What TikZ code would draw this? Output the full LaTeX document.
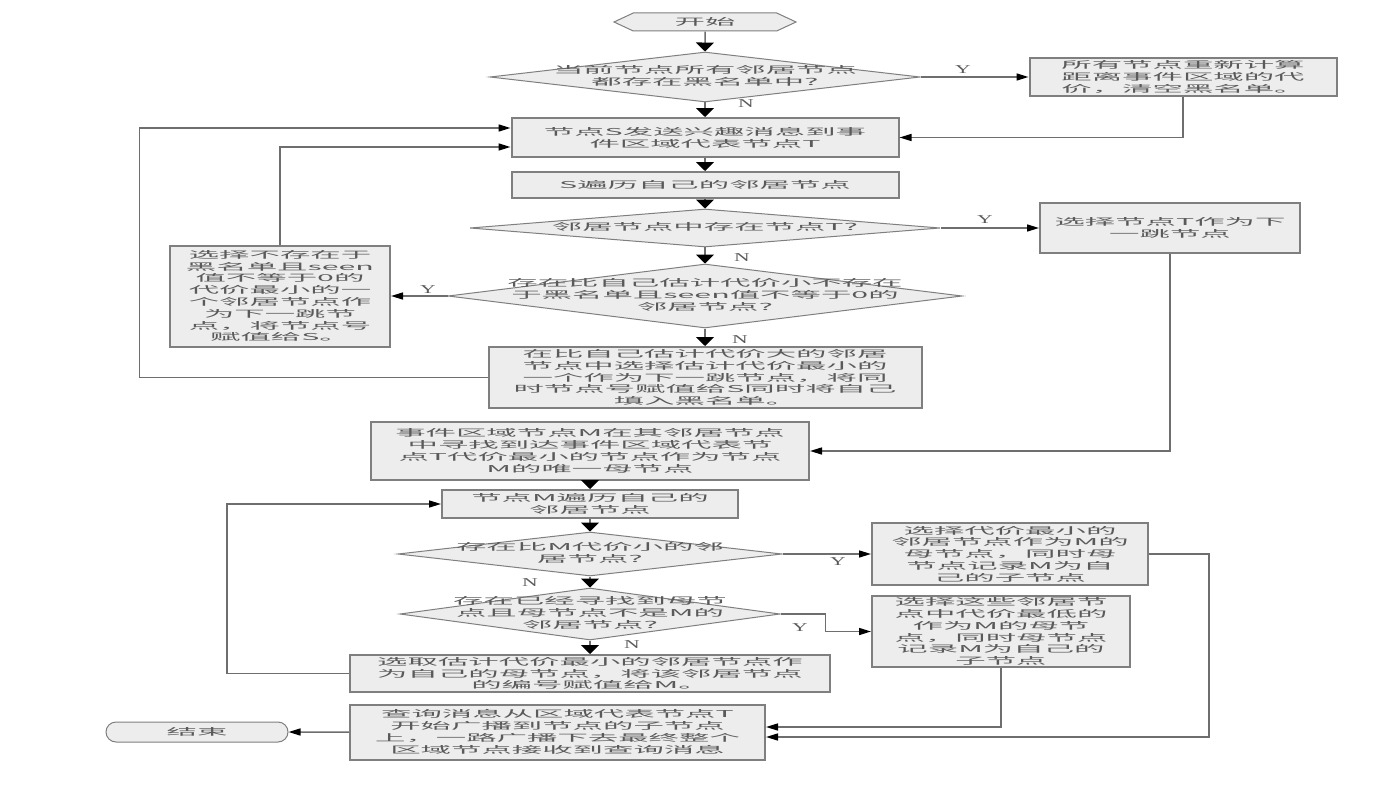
\documentclass[tikz,border=0pt]{standalone}
\usepackage{fontspec}
\usepackage{tikz}
\usetikzlibrary{arrows.meta,shapes.geometric,shapes.symbols,shapes.misc,calc}
\newfontfamily\cjk[FakeStretch=3.2]{Noto Sans CJK SC}
\newfontfamily\latn[FakeStretch=1.8]{Liberation Serif}
\definecolor{boxfill}{HTML}{EDEDED}
\definecolor{boxline}{HTML}{7F7F7F}
\definecolor{flowline}{HTML}{6E6E6E}
\definecolor{txtgray}{HTML}{5A5A5A}
\newcommand\dtext[1]{\makebox[0pt]{\begin{tabular}{@{}c@{}}#1\end{tabular}}}

\begin{document}
\begin{tikzpicture}[x=1pt, y=-1pt,
    cjktext/.style={text=txtgray, font=\cjk\fontsize{9.5}{11.8}\selectfont},
    box/.style={draw=boxline, line width=2pt, fill=boxfill, inner sep=0pt, align=center, cjktext},
    decision/.style={diamond, draw=boxline, line width=1pt, fill=boxfill, inner sep=0pt, cjktext},
    starthex/.style={signal, signal to=east and west, signal pointer angle=50, draw=boxline, line width=1pt, fill=boxfill, inner sep=0pt, minimum width=182pt, minimum height=18pt, cjktext},
    endterm/.style={rounded rectangle, draw=boxline, line width=1pt, fill=boxfill, inner sep=0pt, minimum width=182pt, minimum height=20pt, cjktext},
    yn/.style={text=txtgray, font=\latn\fontsize{12}{12}\selectfont},
    link/.style={draw=flowline, line width=1.5pt},
    varr/.style={link, -{Triangle[length=9pt,width=18pt,color=black]}},
    harr/.style={link, -{Triangle[length=12pt,width=7pt,color=black]}}]
\fill[white] (0,0) rectangle (1400,800);
\useasboundingbox (0,0) rectangle (1400,800);

% upper part: path from S to T
\node (start) [starthex] at (705,22) {开始};
\node (d1) [decision, minimum width=430pt, minimum height=50pt] at (705,77) {\dtext{当前节点所有邻居节点\\都存在黑名单中?}};
\node (r1) [box, minimum width=307pt, minimum height=38pt] at (1183,77) {所有节点重新计算\\距离事件区域的代\\价，清空黑名单。};
\node (b1) [box, minimum width=387pt, minimum height=39pt] at (705,137.5) {节点S发送兴趣消息到事\\件区域代表节点T};
\node (b2) [box, minimum width=387pt, minimum height=26pt] at (705,185) {S遍历自己的邻居节点};
\node (d2) [decision, minimum width=470pt, minimum height=38pt] at (705,228) {\dtext{邻居节点中存在节点T?}};
\node (r2) [box, minimum width=260pt, minimum height=50pt] at (1170,228) {选择节点T作为下\\一跳节点};
\node (d3) [decision, minimum width=514pt, minimum height=64pt] at (705,296) {\dtext{存在比自己估计代价小不存在\\于黑名单且seen值不等于0的\\邻居节点?}};
\node (b9) [box, minimum width=220pt, minimum height=101pt] at (280,296) {选择不存在于\\黑名单且seen\\值不等于0的\\代价最小的一\\个邻居节点作\\为下一跳节\\点，将节点号\\赋值给S。};
\node (b10) [box, minimum width=433pt, minimum height=61pt] at (705,377.5) {在比自己估计代价大的邻居\\节点中选择估计代价最小的\\一个作为下一跳节点，将同\\时节点号赋值给S同时将自己\\填入黑名单。};

% lower part: parent nodes in the region
\node (b11) [box, minimum width=438pt, minimum height=58pt] at (590,451) {事件区域节点M在其邻居节点\\中寻找到达事件区域代表节\\点T代价最小的节点作为节点\\M的唯一母节点};
\node (b12) [box, minimum width=296pt, minimum height=28pt] at (590,504) {节点M遍历自己的\\邻居节点};
\node (d4) [decision, minimum width=384pt, minimum height=44pt] at (590,554) {\dtext{存在比M代价小的邻\\居节点?}};
\node (r3) [box, minimum width=276pt, minimum height=62pt] at (1010,554) {选择代价最小的\\邻居节点作为M的\\母节点，同时母\\节点记录M为自\\己的子节点};
\node (d5) [decision, minimum width=380pt, minimum height=52pt] at (590,614) {\dtext{存在已经寻找到母节\\点且母节点不是M的\\邻居节点?}};
\node (r4) [box, minimum width=258pt, minimum height=71pt] at (1001,631.5) {选择这些邻居节\\点中代价最低的\\作为M的母节\\点，同时母节点\\记录M为自己的\\子节点};
\node (b17) [box, minimum width=480pt, minimum height=37pt] at (590,673.5) {选取估计代价最小的邻居节点作\\为自己的母节点，将该邻居节点\\的编号赋值给M。};
\node (b18) [box, minimum width=415pt, minimum height=55pt] at (557.5,732) {查询消息从区域代表节点T\\开始广播到节点的子节点\\上，一路广播下去最终整个\\区域节点接收到查询消息};
\node (end) [endterm] at (197,732) {结束};

% Y / N marks
\node (y1) [yn] at (963,70) {Y};
\node (n1) [yn] at (746,104) {N};
\node (y2) [yn] at (985,220) {Y};
\node (n2) [yn] at (742,258) {N};
\node (y3) [yn] at (428,290) {Y};
\node (n3) [yn] at (740,340) {N};
\node (y4) [yn] at (838,562) {Y};
\node (n4) [yn] at (530,583) {N};
\node (y5) [yn] at (800,628) {Y};
\node (n5) [yn] at (632,645) {N};

% connectors
\draw [varr] (start) -- (d1);
\draw [varr] (d1) -- (b1);
\draw [harr] (d1) -- (r1);
\draw [harr] (r1.south) |- (b1.east);
\draw [varr] (b1) -- (b2);
\draw [varr] (b2) -- (d2);
\draw [harr] (d2) -- (r2);
\draw [varr] (d2) -- (d3);
\draw [harr] (d3) -- (b9);
\draw [varr] (d3) -- (b10);
\draw [harr] (b10.west) -- ++(-348,0) |- ($(b1.west)+(0,-9.5)$);
\draw [harr] (b9.north) |- ($(b1.west)+(0,9.5)$);
\draw [harr] (r2.south) |- (b11.east);
\draw [varr] (b11) -- (b12);
\draw [varr] (b12) -- (d4);
\draw [harr] (d4) -- (r3);
\draw [varr] (d4) -- (d5);
\draw [harr] (d5.east) -- ++(45,0) |- (r4.west);
\draw [varr] (d5) -- (b17);
\draw [harr] (b17.west) -- ++(-122,0) |- (b12.west);
\draw [harr] (r4.south) |- ($(b18.east)+(0,-5)$);
\draw [harr] (r3.east) -- ++(60,0) |- ($(b18.east)+(0,5)$);
\draw [harr] (b18) -- (end);
\end{tikzpicture}
\end{document}
